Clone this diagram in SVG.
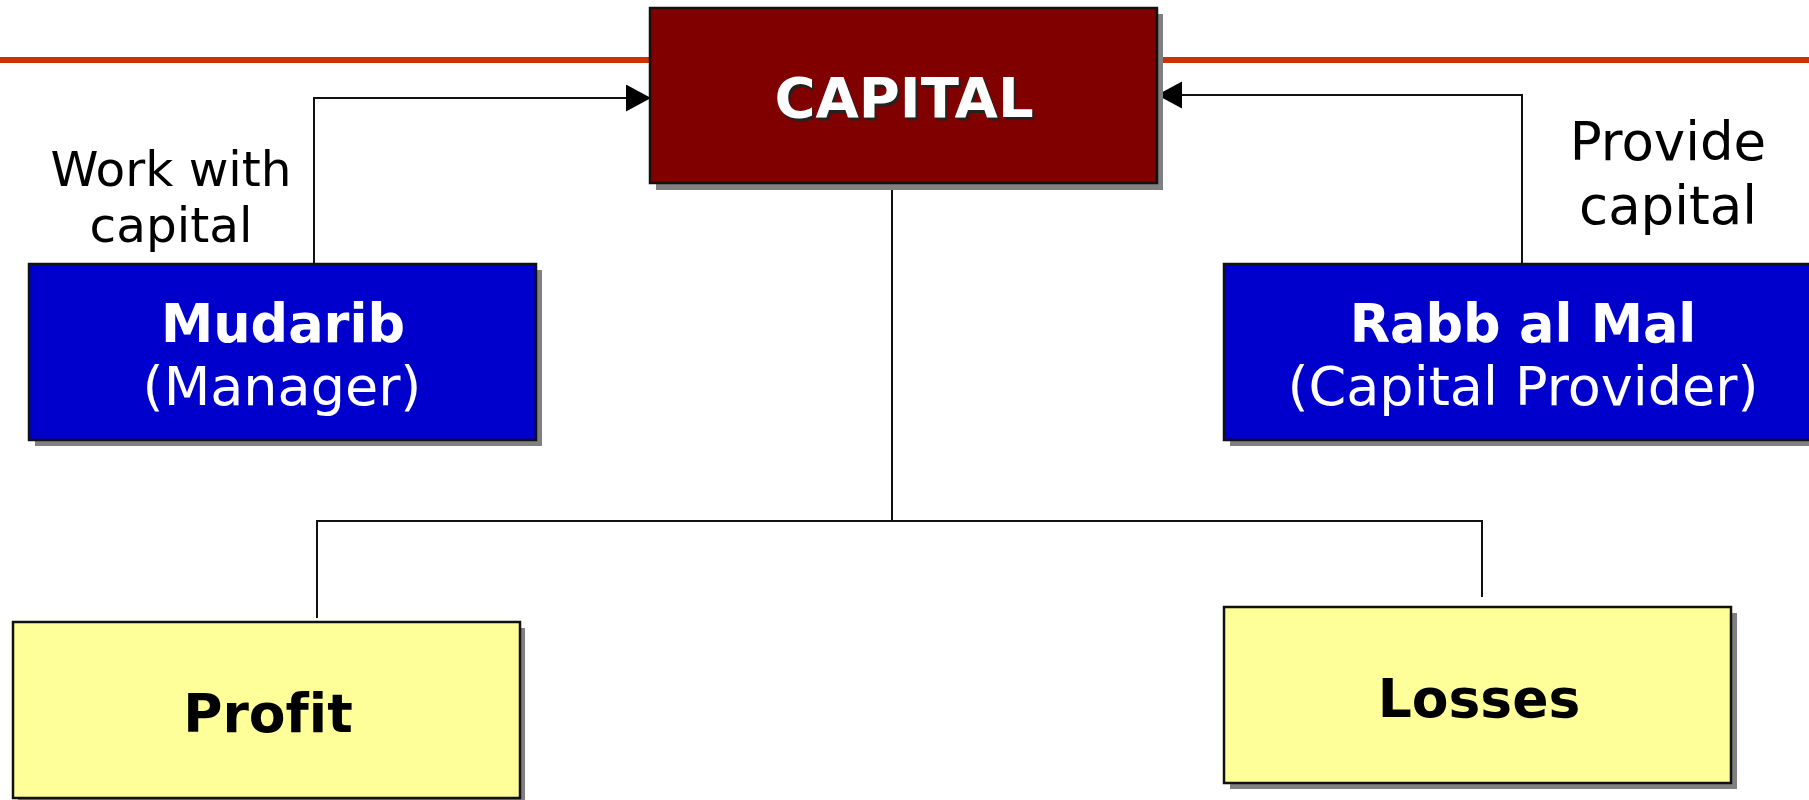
<svg xmlns="http://www.w3.org/2000/svg" width="1809" height="800" viewBox="0 0 1809 800">
  <style>
    .shadow { fill: #808080; }
    .box { stroke: #111111; stroke-width: 2.5; }
    .capital { fill: #800000; }
    .party { fill: #0000CC; }
    .result { fill: #FFFF99; }
    .conn { fill: none; stroke: #111111; stroke-width: 2; }
    text { font-variant-ligatures: none; }
    .title { font-family: "DejaVu Sans", Verdana, sans-serif; font-weight: bold; text-anchor: middle; }
    .sub { font-family: "DejaVu Sans", Verdana, sans-serif; text-anchor: middle; }
  </style>
  <defs>
    <marker id="arrow" markerUnits="userSpaceOnUse" markerWidth="26" markerHeight="28" refX="25" refY="13.5" orient="auto">
      <path d="M0,0 L25,13.5 L0,27 Z" fill="#000000"/>
    </marker>
  </defs>

  <rect width="1809" height="800" fill="#ffffff"/>

  <!-- header rule -->
  <rect x="0" y="57" width="1809" height="6" fill="#CC3300"/>

  <!-- connectors -->
  <g id="connectors">
    <polyline class="conn" points="314,264 314,98 651,98" marker-end="url(#arrow)"/>
    <polyline class="conn" points="1522,264 1522,95 1157,95" marker-end="url(#arrow)"/>
    <polyline class="conn" points="892,184 892,521"/>
    <polyline class="conn" points="317,618 317,521 1482,521 1482,597"/>
  </g>

  <!-- capital -->
  <g id="node-capital">
    <rect class="shadow" x="656" y="14" width="507" height="176"/>
    <rect class="box capital" x="650" y="8" width="507" height="175"/>
    <text class="title" x="906" y="120" font-size="56" fill="#222222">CAPITAL</text>
    <text class="title" x="904" y="117" font-size="56" fill="#ffffff">CAPITAL</text>
  </g>

  <!-- mudarib -->
  <g id="node-mudarib">
    <rect class="shadow" x="35" y="270" width="507" height="176"/>
    <rect class="box party" x="29" y="264" width="507" height="176"/>
    <text class="title" x="283" y="342" font-size="52.5" fill="#ffffff">Mudarib</text>
    <text class="sub" x="282" y="405" font-size="54" fill="#ffffff">(Manager)</text>
  </g>

  <!-- rabb al mal -->
  <g id="node-rabb">
    <rect class="shadow" x="1230" y="270" width="600" height="176"/>
    <rect class="box party" x="1224" y="264" width="600" height="176"/>
    <text class="title" x="1523" y="342" font-size="52.5" fill="#ffffff">Rabb al Mal</text>
    <text class="sub" x="1523" y="405" font-size="54" fill="#ffffff">(Capital Provider)</text>
  </g>

  <!-- edge labels -->
  <g id="label-work">
    <text class="sub" x="171" y="186" font-size="48.5" fill="#000000">Work with</text>
    <text class="sub" x="171" y="242" font-size="48.5" fill="#000000">capital</text>
  </g>
  <g id="label-provide">
    <text class="sub" x="1668" y="160" font-size="53" fill="#000000">Provide</text>
    <text class="sub" x="1668" y="224" font-size="53" fill="#000000">capital</text>
  </g>

  <!-- profit -->
  <g id="node-profit">
    <rect class="shadow" x="18" y="628" width="507" height="176"/>
    <rect class="box result" x="13" y="622" width="507" height="176"/>
    <text class="title" x="268" y="732" font-size="53.5" fill="#000000">Profit</text>
  </g>

  <!-- losses -->
  <g id="node-losses">
    <rect class="shadow" x="1230" y="613" width="507" height="176"/>
    <rect class="box result" x="1224" y="607" width="507" height="176"/>
    <text class="title" x="1479" y="717" font-size="53.5" fill="#000000">Losses</text>
  </g>
</svg>
